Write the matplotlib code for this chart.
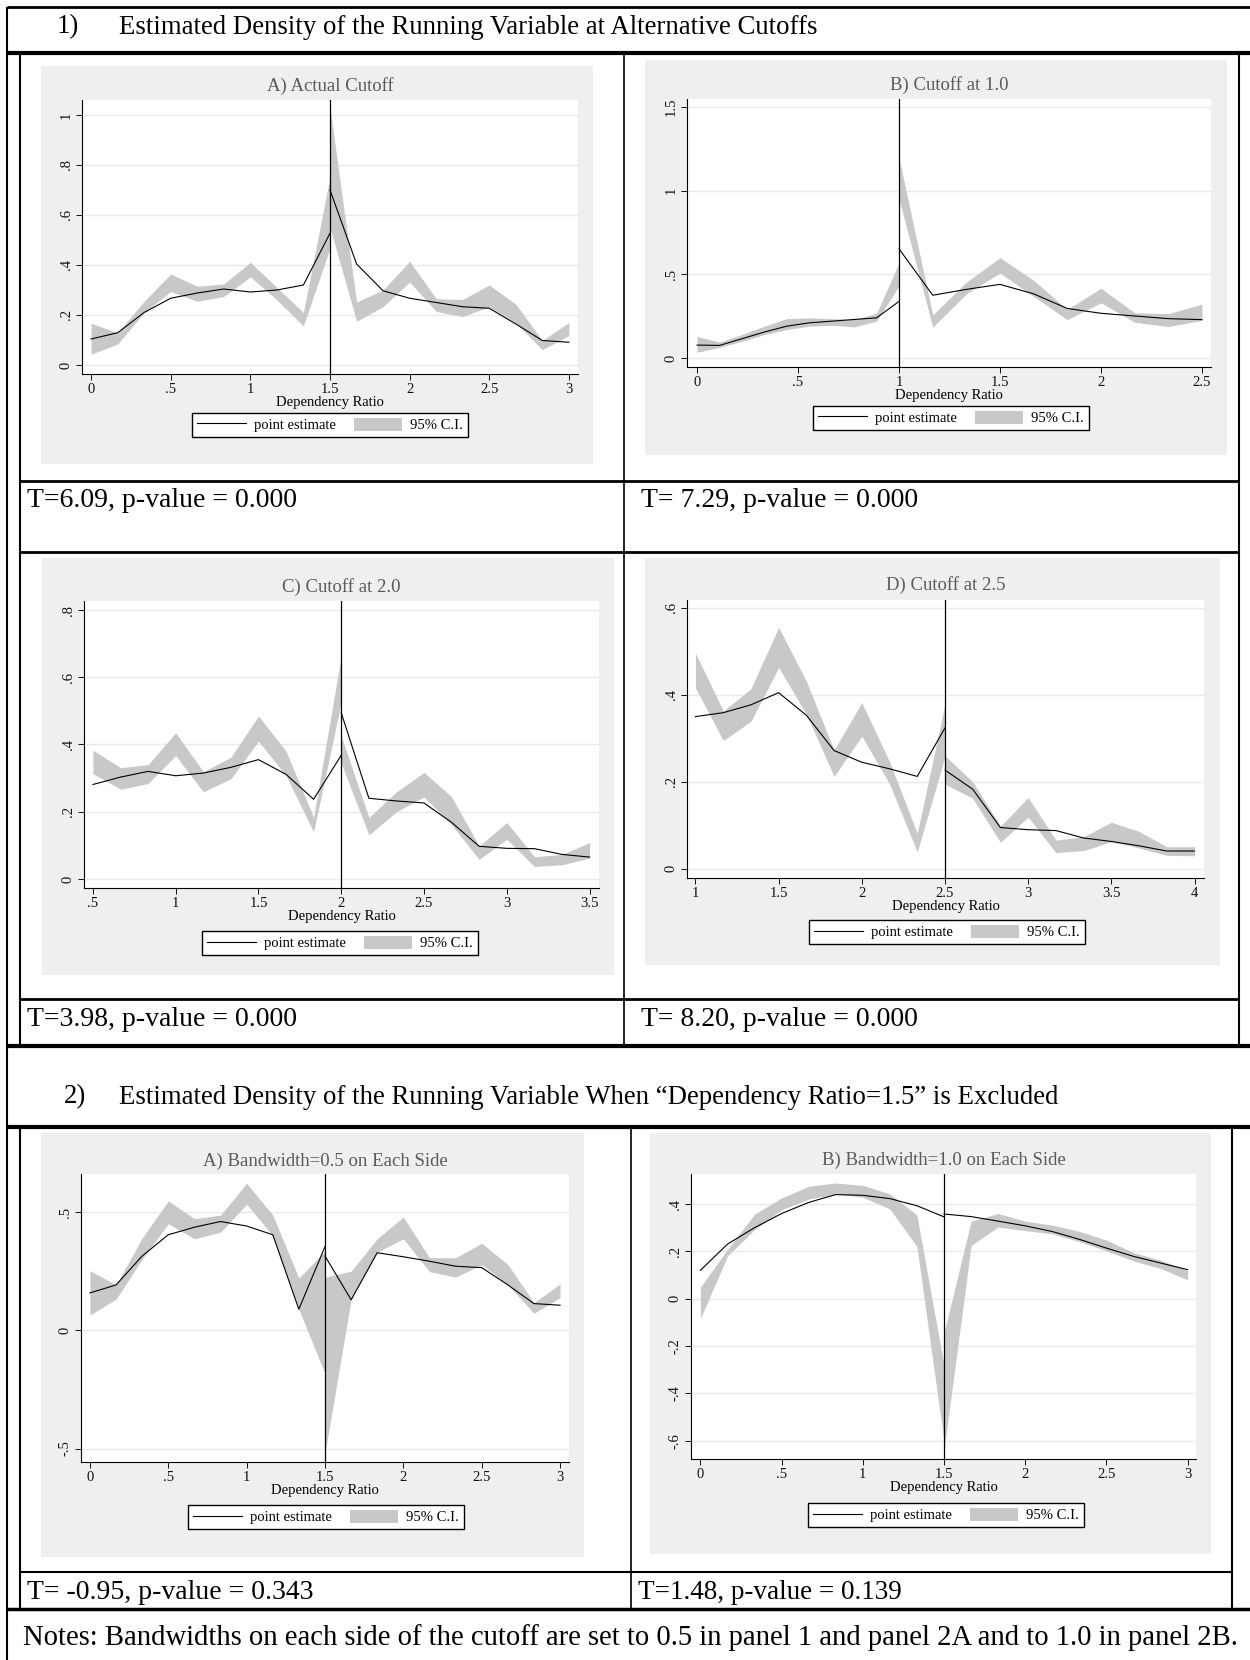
# Density of running variable at alternative cutoffs -- Stata-style panels in a table layout

import numpy as np
import matplotlib.pyplot as plt
from matplotlib.lines import Line2D
from matplotlib.patches import Patch, Rectangle

plt.rcParams['font.family'] = ['Liberation Serif', 'DejaVu Serif']

# DATA
x_0_3_l = [0, .167, .333, .5, .667, .833, 1.0, 1.167, 1.333, 1.5]
x_0_3_r = [1.5, 1.667, 1.833, 2.0, 2.167, 2.333, 2.5, 2.667, 2.833, 3.0]

# 1A) actual cutoff 1.5
est1a_l = [0.104, 0.129, 0.21, 0.267, 0.288, 0.304, 0.292, 0.30, 0.32, 0.527]
est1a_r = [0.70, 0.404, 0.297, 0.267, 0.25, 0.233, 0.227, 0.164, 0.098, 0.091]
lo1a_l = [0.043, 0.084, 0.21, 0.294, 0.255, 0.274, 0.353, 0.26, 0.156, 0.468]
hi1a_l = [0.167, 0.129, 0.255, 0.364, 0.315, 0.324, 0.411, 0.31, 0.21, 0.753]
lo1a_r = [0.55, 0.175, 0.233, 0.332, 0.214, 0.194, 0.233, 0.168, 0.061, 0.118]
hi1a_r = [1.03, 0.252, 0.30, 0.415, 0.265, 0.262, 0.32, 0.243, 0.098, 0.17]

# 1B) cutoff at 1.0
x1b_l = [0, .111, .222, .333, .444, .556, .667, .778, .889, 1.0]
x1b_r = [1.0, 1.167, 1.333, 1.5, 1.667, 1.833, 2.0, 2.167, 2.333, 2.5]
est1b_l = [0.077, 0.075, 0.115, 0.155, 0.19, 0.21, 0.22, 0.23, 0.24, 0.338]
est1b_r = [0.652, 0.375, 0.41, 0.44, 0.383, 0.296, 0.267, 0.251, 0.235, 0.229]
lo1b_l = [0.034, 0.063, 0.10, 0.14, 0.17, 0.19, 0.195, 0.186, 0.22, 0.431]
hi1b_l = [0.128, 0.095, 0.14, 0.19, 0.235, 0.24, 0.235, 0.23, 0.267, 0.569]
lo1b_r = [0.95, 0.184, 0.383, 0.508, 0.368, 0.229, 0.33, 0.213, 0.188, 0.225]
hi1b_r = [1.196, 0.257, 0.453, 0.60, 0.464, 0.29, 0.417, 0.27, 0.265, 0.322]

# 1C) cutoff at 2.0
x1c_l = [.5, .667, .833, 1.0, 1.167, 1.333, 1.5, 1.667, 1.833, 2.0]
x1c_r = [2.0, 2.167, 2.333, 2.5, 2.667, 2.833, 3.0, 3.167, 3.333, 3.5]
est1c_l = [0.281, 0.303, 0.32, 0.307, 0.315, 0.332, 0.355, 0.311, 0.237, 0.368]
est1c_r = [0.494, 0.24, 0.232, 0.226, 0.168, 0.097, 0.091, 0.09, 0.073, 0.065]
lo1c_l = [0.313, 0.267, 0.284, 0.367, 0.259, 0.298, 0.41, 0.307, 0.14, 0.525]
hi1c_l = [0.383, 0.331, 0.34, 0.435, 0.319, 0.362, 0.485, 0.38, 0.183, 0.664]
lo1c_r = [0.344, 0.131, 0.2, 0.244, 0.161, 0.058, 0.118, 0.037, 0.042, 0.062]
hi1c_r = [0.425, 0.183, 0.259, 0.317, 0.244, 0.098, 0.168, 0.066, 0.073, 0.108]

# 1D) cutoff at 2.5
x1d_l = [1.0, 1.167, 1.333, 1.5, 1.667, 1.833, 2.0, 2.167, 2.333, 2.5]
x1d_r = [2.5, 2.667, 2.833, 3.0, 3.167, 3.333, 3.5, 3.667, 3.833, 4.0]
est1d_l = [0.35, 0.359, 0.377, 0.405, 0.353, 0.272, 0.245, 0.23, 0.2125, 0.324]
est1d_r = [0.227, 0.183, 0.095, 0.09, 0.088, 0.071, 0.063, 0.053, 0.041, 0.041]
lo1d_l = [0.416, 0.295, 0.339, 0.463, 0.355, 0.2125, 0.305, 0.195, 0.039, 0.258]
hi1d_l = [0.496, 0.363, 0.414, 0.555, 0.431, 0.273, 0.382, 0.246, 0.082, 0.379]
lo1d_r = [0.195, 0.162, 0.061, 0.119, 0.0375, 0.042, 0.0625, 0.048, 0.031, 0.03]
hi1d_r = [0.26, 0.2, 0.098, 0.164, 0.066, 0.074, 0.107, 0.086, 0.051, 0.051]

# 2A) bandwidth 0.5, 1.5 excluded
est2a_l = [0.158, 0.192, 0.314, 0.404, 0.436, 0.46, 0.441, 0.404, 0.089, 0.354]
est2a_r = [0.314, 0.129, 0.328, 0.311, 0.292, 0.271, 0.265, 0.192, 0.113, 0.106]
lo2a_l = [0.064, 0.132, 0.30, 0.451, 0.387, 0.415, 0.533, 0.40, 0.089, -0.183]
hi2a_l = [0.252, 0.192, 0.39, 0.547, 0.472, 0.487, 0.622, 0.487, 0.221, 0.335]
lo2a_r = [-0.52, 0.132, 0.33, 0.387, 0.248, 0.225, 0.278, 0.192, 0.072, 0.138]
hi2a_r = [0.225, 0.25, 0.387, 0.479, 0.307, 0.307, 0.368, 0.278, 0.117, 0.196]

# 2B) bandwidth 1.0, 1.5 excluded
est2b_l = [0.12, 0.231, 0.30, 0.36, 0.407, 0.44, 0.437, 0.423, 0.393, 0.346]
est2b_r = [0.358, 0.347, 0.328, 0.308, 0.284, 0.251, 0.214, 0.179, 0.151, 0.123]
lo2b_l = [-0.083, 0.181, 0.292, 0.376, 0.421, 0.443, 0.429, 0.379, 0.221, -0.60]
hi2b_l = [0.049, 0.209, 0.357, 0.426, 0.475, 0.489, 0.479, 0.443, 0.354, -0.281]
lo2b_r = [-0.64, 0.225, 0.303, 0.288, 0.274, 0.242, 0.202, 0.16, 0.128, 0.08]
hi2b_r = [-0.145, 0.328, 0.36, 0.328, 0.311, 0.285, 0.248, 0.195, 0.163, 0.12]

# tick values / labels
xt_0_3 = [0, .5, 1, 1.5, 2, 2.5, 3]
xl_0_3 = ['0', '.5', '1', '1.5', '2', '2.5', '3']
xt_1b = [0, .5, 1, 1.5, 2, 2.5]
xl_1b = ['0', '.5', '1', '1.5', '2', '2.5']
xt_1c = [.5, 1, 1.5, 2, 2.5, 3, 3.5]
xl_1c = ['.5', '1', '1.5', '2', '2.5', '3', '3.5']
xt_1d = [1, 1.5, 2, 2.5, 3, 3.5, 4]
xl_1d = ['1', '1.5', '2', '2.5', '3', '3.5', '4']
yt_1a = [0, .2, .4, .6, .8, 1]
yl_1a = ['0', '.2', '.4', '.6', '.8', '1']
yt_1b = [0, .5, 1, 1.5]
yl_1b = ['0', '.5', '1', '1.5']
yt_1c = [0, .2, .4, .6, .8]
yl_1c = ['0', '.2', '.4', '.6', '.8']
yt_1d = [0, .2, .4, .6]
yl_1d = ['0', '.2', '.4', '.6']
yt_2a = [-.5, 0, .5]
yl_2a = ['-.5', '0', '.5']
yt_2b = [-.6, -.4, -.2, 0, .2, .4]
yl_2b = ['-.6', '-.4', '-.2', '0', '.2', '.4']

stats_text = ["T=6.09, p-value = 0.000", "T= 7.29, p-value = 0.000",
              "T=3.98, p-value = 0.000", "T= 8.20, p-value = 0.000",
              "T= -0.95, p-value = 0.343", "T=1.48, p-value = 0.139"]

# STYLE
ci_col = '#c8c8c8'
bg_col = '#efefef'
grid_col = '#e9e9e9'
title_col = '#5a5a5a'

W, H = 1250, 1660
fig = plt.figure(figsize=(W / 100, H / 100), dpi=100)
bg = fig.add_axes([0, 0, 1, 1])
bg.set_xlim(0, W)
bg.set_ylim(H, 0)
bg.axis('off')


def px_axes(l, t, r, b):
	return fig.add_axes([l / W, 1 - b / H, (r - l) / W, (b - t) / H])


def hline(y, x0, x1, lw):
	bg.plot([x0, x1], [y, y], color='black', lw=lw, solid_capstyle='butt')


def vline(x, y0, y1, lw):
	bg.plot([x, x], [y0, y1], color='black', lw=lw, solid_capstyle='butt')


def panel(gray, rect, xlim, ylim, title, title_y, leg_xy, cutoff,
          xl, xr, el, er, lol, hil, lor, hir, xt, xtl, yt, ytl):
	gl, gt, gr, gb = gray
	bg.add_patch(Rectangle((gl, gt), gr - gl, gb - gt, facecolor=bg_col, edgecolor='none'))
	ax = px_axes(*rect)
	ax.set_facecolor('white')
	ax.fill_between(xl, lol, hil, color=ci_col, lw=0)
	ax.fill_between(xr, lor, hir, color=ci_col, lw=0)
	ax.plot(xl, el, color='black', lw=0.8)
	ax.plot(xr, er, color='black', lw=0.8)
	ax.axvline(cutoff, color='black', lw=0.9)
	ax.set_xlim(xlim)
	ax.set_ylim(ylim)
	ax.set_xticks(xt)
	ax.set_xticklabels(xtl)
	ax.set_yticks(yt)
	ax.set_yticklabels(ytl, rotation=90, va='center')
	ax.set_axisbelow(True)
	ax.yaxis.grid(True, color=grid_col, lw=1.0)
	for s in ['top', 'right']:
		ax.spines[s].set_visible(False)
	for s in ['left', 'bottom']:
		ax.spines[s].set_linewidth(0.8)
	ax.tick_params(length=4, width=0.7, labelsize=10.5, pad=2.5, colors='#111111')
	ax.set_xlabel("Dependency Ratio", fontsize=10.5, labelpad=0)
	bg.text((rect[0] + rect[2]) / 2, title_y, title, ha='center', va='center',
	        fontsize=13.5, color=title_col)
	handles = [Line2D([], [], color='black', lw=0.8), Patch(facecolor=ci_col, edgecolor='none')]
	ax.legend(handles, ['point estimate', '95% C.I.'], ncol=2, loc='center',
	          bbox_to_anchor=leg_xy, bbox_transform=bg.transData, fontsize=10.5,
	          frameon=True, fancybox=False, edgecolor='black', framealpha=1,
	          handlelength=3.3, handleheight=1.0, handletextpad=0.55,
	          columnspacing=1.25, borderpad=0.35).get_frame().set_linewidth(1.0)
	return ax


# TABLE LINES
vline(7, 7, H, 1.5)
hline(7, 7, W, 2.0)
hline(53, 7, W, 3.0)
vline(20, 53, 1046, 1.5)
vline(1239, 53, 1046, 1.5)
vline(624, 53, 1046, 1.2)
hline(481, 20, 1239, 2.0)
hline(552, 20, 1239, 2.0)
hline(999, 20, 1239, 2.0)
hline(1046, 7, W, 3.0)
hline(1127, 7, W, 3.0)
vline(20, 1127, 1609, 1.5)
vline(1232, 1127, 1609, 1.5)
vline(631, 1127, 1609, 1.2)
hline(1572, 20, 1232, 1.5)
hline(1609, 7, W, 2.5)

# HEADINGS AND TEXT
bg.text(57, 27, "1)", fontsize=19.3, va='center')
bg.text(119, 27, "Estimated Density of the Running Variable at Alternative Cutoffs", fontsize=19.3, va='center')
bg.text(64, 1097, "2)", fontsize=19.3, va='center')
bg.text(119, 1097, "Estimated Density of the Running Variable When \u201cDependency Ratio=1.5\u201d is Excluded",
        fontsize=19.3, va='center')
bg.text(27, 500, stats_text[0], fontsize=20, va='center')
bg.text(641, 500, stats_text[1], fontsize=20, va='center')
bg.text(27, 1019, stats_text[2], fontsize=20, va='center')
bg.text(641, 1019, stats_text[3], fontsize=20, va='center')
bg.text(27, 1592, stats_text[4], fontsize=20, va='center')
bg.text(638, 1592, stats_text[5], fontsize=19.5, va='center')
bg.text(23, 1638, "Notes: Bandwidths on each side of the cutoff are set to 0.5 in panel 1 and panel 2A and to 1.0 in panel 2B.",
        fontsize=20.6, va='center')

# PANELS
panel((41, 66, 593, 464), (82, 100, 578, 374), (-0.057, 3.057), (-0.036, 1.06),
      "A) Actual Cutoff", 86, (330, 425), 1.5,
      x_0_3_l, x_0_3_r, est1a_l, est1a_r, lo1a_l, hi1a_l, lo1a_r, hi1a_r,
      xt_0_3, xl_0_3, yt_1a, yl_1a)

panel((645, 60, 1227, 455), (687, 99, 1211, 367), (-0.05, 2.545), (-0.054, 1.548),
      "B) Cutoff at 1.0", 85, (951, 418), 1.0,
      x1b_l, x1b_r, est1b_l, est1b_r, lo1b_l, hi1b_l, lo1b_r, hi1b_r,
      xt_1b, xl_1b, yt_1b, yl_1b)

panel((42, 558, 614, 975), (84, 601, 599, 888), (0.446, 3.557), (-0.027, 0.827),
      "C) Cutoff at 2.0", 587, (340, 943), 2.0,
      x1c_l, x1c_r, est1c_l, est1c_r, lo1c_l, hi1c_l, lo1c_r, hi1c_r,
      xt_1c, xl_1c, yt_1c, yl_1c)

panel((645, 558, 1220, 965), (687, 600, 1204, 878), (0.949, 4.057), (-0.021, 0.618),
      "D) Cutoff at 2.5", 585, (947, 932), 2.5,
      x1d_l, x1d_r, est1d_l, est1d_r, lo1d_l, hi1d_l, lo1d_r, hi1d_r,
      xt_1d, xl_1d, yt_1d, yl_1d)

panel((41, 1133, 584, 1557), (81, 1174, 569, 1462), (-0.057, 3.057), (-0.557, 0.661),
      "A) Bandwidth=0.5 on Each Side", 1161, (326, 1517), 1.5,
      x_0_3_l, x_0_3_r, est2a_l, est2a_r, lo2a_l, hi2a_l, lo2a_r, hi2a_r,
      xt_0_3, xl_0_3, yt_2a, yl_2a)

panel((650, 1133, 1211, 1554), (691, 1174, 1196, 1459), (-0.058, 3.052), (-0.677, 0.527),
      "B) Bandwidth=1.0 on Each Side", 1160, (946, 1515), 1.5,
      x_0_3_l, x_0_3_r, est2b_l, est2b_r, lo2b_l, hi2b_l, lo2b_r, hi2b_r,
      xt_0_3, xl_0_3, yt_2b, yl_2b)

plt.savefig("out.png", dpi=100)
